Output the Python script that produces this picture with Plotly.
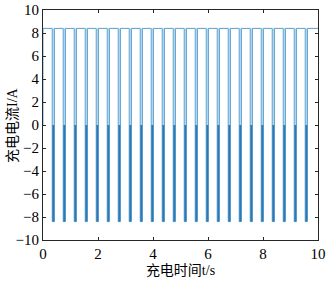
import plotly.graph_objects as go

# Data
pulse_centers = [0.375, 0.775, 1.175, 1.575, 1.975, 2.375, 2.775, 3.175, 3.575, 3.975,
                 4.375, 4.775, 5.175, 5.575, 5.975, 6.375, 6.775, 7.175, 7.575, 7.975,
                 8.375, 8.775, 9.175, 9.575]
high_level = 8.4
low_level = -8.4
pulse_width = 0.08
t_end = 10.0
x_ticks = [0, 2, 4, 6, 8, 10]
y_ticks = [-10, -8, -6, -4, -2, 0, 2, 4, 6, 8, 10]
x_title = "充电时间t/s"
y_title = "充电电流I/A"

xs = [0, 0]
ys = [0, high_level]
for c in pulse_centers:
    a = c - pulse_width / 2
    b = c + pulse_width / 2
    xs += [a, a, b, b]
    ys += [high_level, low_level, low_level, high_level]
xs.append(t_end)
ys.append(high_level)

# light inner band of the upper part, darker lower (negative) part
ux, uy, lx, ly = [], [], [], []
for c in pulse_centers:
    ux += [c, c, None]
    uy += [0, high_level, None]
    lx += [c, c, None]
    ly += [0, low_level, None]

fig = go.Figure()
fig.add_trace(go.Scatter(x=ux, y=uy, mode="lines",
                         line=dict(color="#b3dcf2", width=1.5), hoverinfo="skip"))
fig.add_trace(go.Scatter(x=xs, y=ys, mode="lines",
                         line=dict(color="#5c9fcf", width=1), hoverinfo="skip"))
fig.add_trace(go.Scatter(x=lx, y=ly, mode="lines",
                         line=dict(color="#2a7ab8", width=2), hoverinfo="skip"))

font_family = "Liberation Serif, Noto Sans CJK SC"
axis_common = dict(showgrid=False, zeroline=False, showline=True, mirror="ticks",
                   linecolor="#262626", linewidth=1, ticks="inside", ticklen=3,
                   tickcolor="#262626", automargin=False,
                   tickfont=dict(family=font_family, size=15, color="#000"))

fig.update_layout(
    width=327, height=281,
    margin=dict(l=43, r=9, t=10, b=41),
    paper_bgcolor="white", plot_bgcolor="white",
    showlegend=False,
    xaxis=dict(range=[0, 10], tickvals=x_ticks,
               title=dict(text=x_title, font=dict(family=font_family, size=14, color="#000"), standoff=4),
               **axis_common),
    yaxis=dict(range=[-10, 10], tickvals=y_ticks, **axis_common),
    annotations=[dict(text=y_title, xref="paper", yref="paper", x=0, y=0.5,
                      xanchor="center", yanchor="middle", xshift=-31, textangle=-90,
                      showarrow=False, font=dict(family=font_family, size=14, color="#000"))],
)

fig.write_html("out.html", config={"displayModeBar": False},
               post_script="document.body.style.margin='0';")
